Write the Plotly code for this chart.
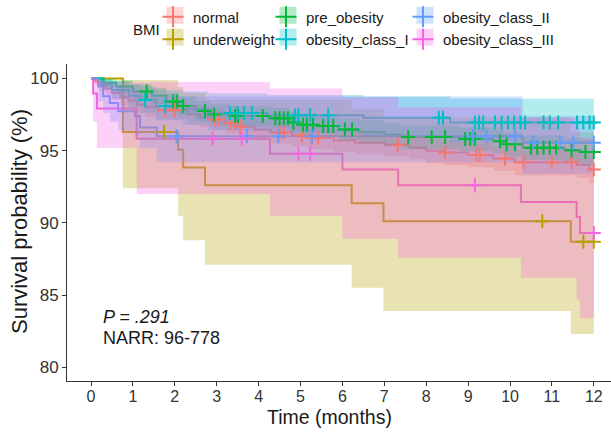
import plotly.graph_objects as go

FONT = "Liberation Sans, Arial, sans-serif"

# Kaplan-Meier estimates (%) by BMI group: step times (months), survival, 95% CI
normal_t = [0, 0.1, 0.2, 0.35, 0.5, 0.7, 0.9, 1.1, 1.3, 1.6, 2.3, 2.6, 2.9, 3.2, 3.5, 3.9, 4.3, 4.8, 5.2, 5.8,
            6.3, 7.0, 7.6, 8.0, 8.4, 9.0, 9.6, 10.1, 11.6, 11.9]
normal_s = [100, 99.8, 99.5, 99.3, 99.0, 98.7, 98.45, 98.2, 98.0, 97.8, 97.5, 97.3, 97.15, 96.9, 96.65, 96.45,
            96.25, 96.05, 95.9, 95.7, 95.55, 95.4, 95.2, 95.0, 94.87, 94.7, 94.45, 94.2, 94.0, 93.7]
normal_hi = [100, 100, 99.85, 99.7, 99.5, 99.25, 99.05, 98.8, 98.65, 98.45, 98.2, 98.0, 97.85, 97.65, 97.4, 97.2,
             97.0, 96.8, 96.7, 96.5, 96.35, 96.2, 96.0, 95.85, 95.7, 95.55, 95.3, 95.1, 94.9, 94.65]
normal_lo = [100, 99.6, 99.15, 98.9, 98.5, 98.15, 97.85, 97.6, 97.35, 97.15, 96.8, 96.6, 96.45, 96.15, 95.9, 95.7,
             95.5, 95.3, 95.1, 94.9, 94.75, 94.6, 94.4, 94.15, 94.0, 93.85, 93.6, 93.3, 93.1, 92.75]
normal_cens = [1.77, 2.0, 2.96, 3.04, 3.32, 3.44, 3.56, 4.5, 4.6, 5.03, 5.27, 5.42, 7.32, 8.45, 9.2, 9.28, 9.88,
               10.32, 11.0, 11.47, 12.0]

under_t = [0, 0.76, 2.08, 2.2, 2.72, 6.22, 6.98, 11.45]
under_s = [100, 96.3, 95.06, 93.83, 92.6, 91.36, 90.12, 88.7]
under_hi = [100, 99.9, 99.4, 99.0, 98.5, 97.9, 97.3, 96.3]
under_lo = [100, 92.4, 90.5, 88.8, 87.1, 85.5, 83.9, 82.3]
under_cens = [1.74, 10.77, 11.75, 12.0]

pre_t = [0, 0.3, 0.6, 1.0, 1.45, 1.8, 2.1, 2.5, 2.85, 3.3, 4.3, 4.75, 5.0, 5.4, 5.9, 6.4, 7.0, 7.4, 8.8, 9.6,
         9.85, 10.3, 11.3, 11.7]
pre_s = [100, 99.7, 99.45, 99.1, 98.8, 98.4, 98.1, 97.75, 97.5, 97.4, 97.25, 96.95, 96.8, 96.7, 96.47, 96.3,
         96.1, 95.94, 95.8, 95.65, 95.44, 95.2, 95.03, 94.9]
pre_hi = [100, 99.95, 99.85, 99.6, 99.35, 99.0, 98.75, 98.45, 98.2, 98.1, 97.95, 97.7, 97.55, 97.45, 97.25,
          97.1, 96.9, 96.75, 96.6, 96.45, 96.25, 96.05, 95.9, 95.75]
pre_lo = [100, 99.4, 99.05, 98.6, 98.25, 97.8, 97.45, 97.05, 96.8, 96.7, 96.55, 96.2, 96.05, 95.95, 95.7, 95.5,
          95.3, 95.1, 94.95, 94.8, 94.6, 94.35, 94.15, 94.0]
pre_cens = [1.33, 1.96, 2.05, 2.2, 2.72, 2.94, 3.44, 3.51, 4.1, 4.4, 4.5, 4.6, 4.7, 4.83, 5.06, 5.15, 5.3, 5.54,
            5.66, 5.78, 6.06, 6.23, 7.57, 8.13, 8.45, 8.93, 9.05, 9.16, 9.76, 9.92, 10.12, 10.5, 10.65, 10.8,
            10.95, 11.1, 11.47, 11.8, 12.0]

ob1_t = [0, 0.25, 0.5, 0.9, 1.2, 1.55, 2.2, 2.8, 4.2, 6.5, 8.57]
ob1_s = [100, 99.6, 99.2, 98.8, 98.5, 98.1, 97.9, 97.6, 97.45, 97.27, 96.95]
ob1_hi = [100, 99.95, 99.8, 99.6, 99.45, 99.2, 99.1, 98.95, 98.85, 98.75, 98.6]
ob1_lo = [100, 99.2, 98.6, 98.0, 97.6, 97.1, 96.8, 96.4, 96.2, 96.0, 95.6]
ob1_cens = [1.29, 1.77, 3.32, 3.5, 3.65, 3.84, 4.87, 4.95, 5.23, 5.66, 8.3, 8.4, 9.16, 9.26, 9.36, 9.64, 9.8,
            9.95, 10.1, 10.25, 10.36, 10.8, 10.95, 11.15, 11.6, 11.75, 11.9, 12.0]

ob2_t = [0, 0.17, 0.29, 0.45, 0.65, 1.05, 1.17, 1.57, 10.3]
ob2_s = [100, 99.45, 98.76, 98.3, 97.73, 97.4, 96.6, 96.0, 95.55]
ob2_hi = [100, 99.95, 99.8, 99.65, 99.4, 99.25, 99.0, 98.75, 97.4]
ob2_lo = [100, 98.4, 97.6, 97.0, 96.4, 96.0, 95.2, 94.2, 93.4]
ob2_cens = [2.04, 3.72, 4.47, 5.27, 9.12, 9.44, 10.12, 10.56, 11.19, 11.51, 12.0]

ob3_t = [0, 0.05, 0.14, 1.09, 4.27, 6.0, 7.33, 10.26, 11.59, 11.67]
ob3_s = [100, 98.96, 97.92, 95.83, 94.79, 93.7, 92.6, 91.45, 90.4, 89.3]
ob3_hi = [100, 99.9, 99.75, 99.75, 99.3, 98.7, 98.0, 97.3, 96.6, 95.9]
ob3_lo = [100, 97.0, 95.2, 92.0, 90.5, 88.9, 87.6, 86.2, 84.7, 83.4]
ob3_cens = [2.9, 3.6, 4.95, 5.23, 9.16, 12.0]

groups = ["normal", "underweight", "pre_obesity", "obesity_class_I", "obesity_class_II", "obesity_class_III"]
colors = ["#F8766D", "#B79F00", "#00BA38", "#00BFC4", "#619CFF", "#F564E3"]
T_END = 12.0

data = {
    "normal": (normal_t, normal_s, normal_lo, normal_hi, normal_cens),
    "underweight": (under_t, under_s, under_lo, under_hi, under_cens),
    "pre_obesity": (pre_t, pre_s, pre_lo, pre_hi, pre_cens),
    "obesity_class_I": (ob1_t, ob1_s, ob1_lo, ob1_hi, ob1_cens),
    "obesity_class_II": (ob2_t, ob2_s, ob2_lo, ob2_hi, ob2_cens),
    "obesity_class_III": (ob3_t, ob3_s, ob3_lo, ob3_hi, ob3_cens),
}


def rgba(hex_color, a):
    h = hex_color.lstrip("#")
    return f"rgba({int(h[0:2], 16)},{int(h[2:4], 16)},{int(h[4:6], 16)},{a})"


def step_band(t, lo, hi, t_end):
    xs, ys = [], []
    n = len(t)
    for i in range(n):
        t1 = t[i + 1] if i + 1 < n else t_end
        xs += [t[i], t1]
        ys += [hi[i], hi[i]]
    for i in reversed(range(n)):
        t1 = t[i + 1] if i + 1 < n else t_end
        xs += [t1, t[i]]
        ys += [lo[i], lo[i]]
    return xs, ys


def surv_at(t, s, x):
    val = s[0]
    for ti, si in zip(t, s):
        if ti <= x:
            val = si
    return val


fig = go.Figure()

# survival curves (ribbons are layered over them)
for g, c in zip(groups, colors):
    t, s, lo, hi, _ = data[g]
    fig.add_trace(go.Scatter(x=t + [T_END], y=s + [s[-1]], mode="lines", line=dict(color=c, width=2, shape="hv"),
                             name=g, showlegend=False))

# confidence ribbons
for g, c in zip(groups, colors):
    t, s, lo, hi, _ = data[g]
    bx, by = step_band(t, lo, hi, T_END)
    fig.add_trace(go.Scatter(x=bx, y=by, mode="lines", fill="toself", fillcolor=rgba(c, 0.3),
                             line=dict(width=0), hoverinfo="skip", showlegend=False))

# censoring marks
for g, c in zip(groups, colors):
    t, s, lo, hi, cens = data[g]
    fig.add_trace(go.Scatter(x=cens, y=[surv_at(t, s, x) for x in cens], mode="markers",
                             marker=dict(symbol="cross-thin-open", size=10, color=c, line=dict(color=c, width=2)),
                             showlegend=False, hoverinfo="skip"))

# legend entries, two per column
legend_ids = ["legend", "legend", "legend2", "legend2", "legend3", "legend3"]
for g, c, lid in zip(groups, colors, legend_ids):
    fig.add_trace(go.Scatter(x=[None], y=[None], mode="markers", name=g, legend=lid,
                             marker=dict(symbol="cross-thin-open", size=15, color=c, line=dict(color=c, width=2))))

L, R, T, B = 67, 0, 62, 51
W, H = 611, 432
PW, PH = W - L - R, H - T - B


def px_x(p):
    return (p - L) / PW


def px_y(p):
    return (H - B - p) / PH


leg_common = dict(orientation="v", xanchor="left", yanchor="top", bgcolor="rgba(0,0,0,0)",
                  font=dict(family=FONT, size=15, color="#1a1a1a"), itemwidth=30, tracegroupgap=0)

key_cols = [175, 288, 425]
key_rows = [13, 35]
shapes = []
for idx, c in enumerate(colors):
    cx = key_cols[idx // 2]
    cy = key_rows[idx % 2]
    shapes.append(dict(type="rect", xref="paper", yref="paper", x0=px_x(cx - 8.5), x1=px_x(cx + 8.5),
                       y0=px_y(cy + 8.5), y1=px_y(cy - 8.5), fillcolor=rgba(c, 0.3), line=dict(width=0),
                       layer="below"))

fig.update_layout(
    width=W, height=H,
    margin=dict(l=L, r=R, t=T, b=B),
    paper_bgcolor="white", plot_bgcolor="white",
    font=dict(family=FONT, color="#1a1a1a"),
    legend=dict(leg_common, x=px_x(key_cols[0] - 22), y=px_y(-2)),
    legend2=dict(leg_common, x=px_x(key_cols[1] - 22), y=px_y(-2)),
    legend3=dict(leg_common, x=px_x(key_cols[2] - 22), y=px_y(-2)),
    shapes=shapes,
    xaxis=dict(range=[-0.573, 12.41], tickvals=list(range(13)), ticks="outside", ticklen=4, tickcolor="#333",
               showline=True, linecolor="#333", linewidth=1, showgrid=False, zeroline=False,
               ticklabelstandoff=-3,
               tickfont=dict(family=FONT, size=16, color="#333")),
    yaxis=dict(range=[79.05, 101.0], tickvals=[80, 85, 90, 95, 100], ticks="outside", ticklen=4, tickcolor="#333",
               showline=True, linecolor="#333", linewidth=1, showgrid=False, zeroline=False,
               tickfont=dict(family=FONT, size=17, color="#333")),
    annotations=[
        dict(text="Time (months)", xref="paper", yref="paper", x=px_x(329), y=px_y(417), xanchor="center",
             yanchor="middle", showarrow=False, font=dict(family=FONT, size=19.5, color="#1a1a1a")),
        dict(text="Survival probability (%)", xref="paper", yref="paper", x=px_x(19), y=px_y(221),
             xanchor="center", yanchor="middle", textangle=-90, showarrow=False,
             font=dict(family=FONT, size=22, color="#1a1a1a")),
        dict(text="BMI", xref="paper", yref="paper", x=px_x(162), y=px_y(27), xanchor="right", yanchor="middle",
             showarrow=False, font=dict(family=FONT, size=15, color="#1a1a1a")),
        dict(text="<i>P = .291</i>", xref="x", yref="y", x=0.25, y=83.5, xanchor="left", yanchor="middle",
             showarrow=False, font=dict(family=FONT, size=18, color="#1a1a1a")),
        dict(text="NARR: 96-778", xref="x", yref="y", x=0.25, y=82.05, xanchor="left", yanchor="middle",
             showarrow=False, font=dict(family=FONT, size=18, color="#1a1a1a")),
    ],
)

fig.write_html("out.html")
